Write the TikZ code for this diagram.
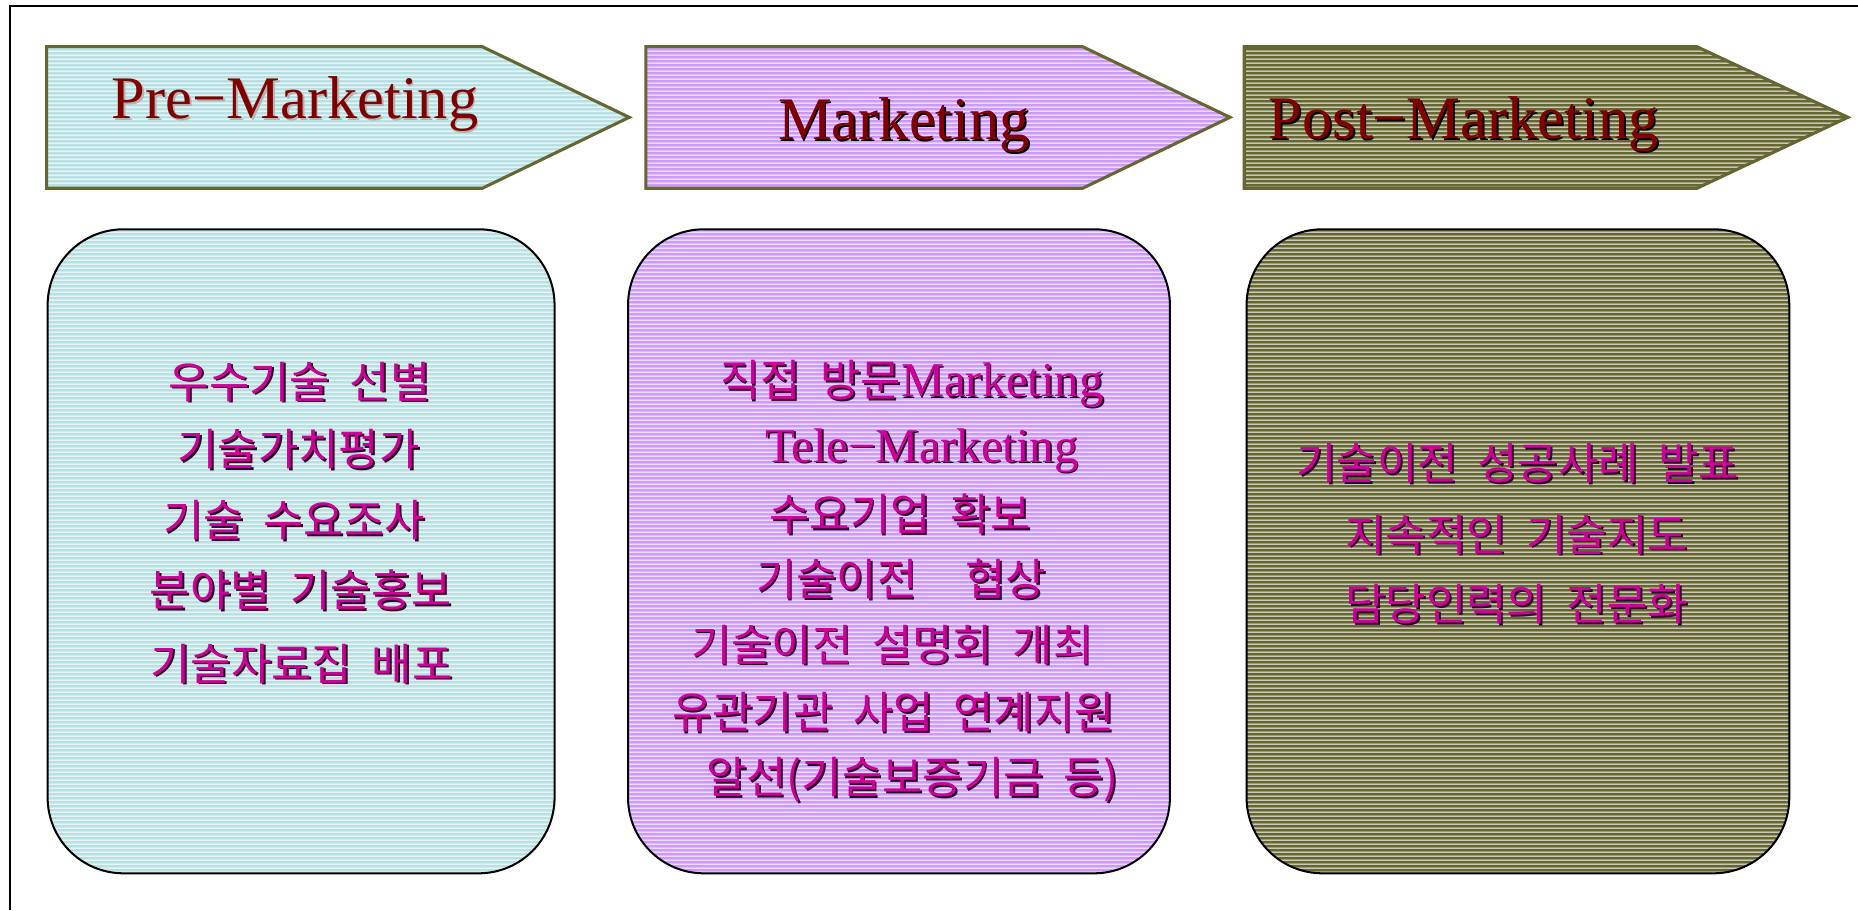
\documentclass[tikz,border=0pt]{standalone}
\usepackage{fontspec}
\setmainfont{Liberation Serif}
\newfontfamily\kr[WordSpace=2.0]{Noto Sans CJK KR}
\usetikzlibrary{patterns.meta}
\definecolor{cyanF}{HTML}{B8E0E2}
\definecolor{purpF}{HTML}{CC99FF}
\definecolor{oliveF}{HTML}{666633}
\definecolor{hdrred}{HTML}{800000}
\definecolor{kmag}{HTML}{CC0099}
\definecolor{kshadow}{HTML}{2A0024}
\definecolor{lgray}{HTML}{B4B4B4}
\newcommand\shtext[5]{%
  \node[#3, text=#4, xshift=1.5pt, yshift=-1.5pt] (#1-s) at (#2) {#5};
  \node[#3] (#1) at (#2) {#5};}
\tikzset{
  stripes/.style={preaction={fill=#1}, pattern={Lines[angle=0,distance=3.66pt,line width=0.9pt]}, pattern color=white},
  arrowshape/.style={stripes=#1, draw=oliveF, line width=2.6pt, line join=miter},
  boxshape/.style={stripes=#1, draw=black, line width=1.7pt, rounded corners=64pt},
  hdr/.style={inner sep=0pt, anchor=base west, text=hdrred, font=\fontsize{51}{51}\selectfont},
  ktxt/.style={inner sep=0pt, anchor=base, text=kmag, font=\kr\fontsize{37}{37}\selectfont},
}
\newcommand\lat[1]{{\rmfamily\fontsize{41}{41}\selectfont #1}}
\begin{document}
\begin{tikzpicture}[x=1pt,y=-1pt]
\useasboundingbox (0,0) rectangle (1568,768);
% outer frame
\draw[line width=1.5pt] (8.4,768) |- (1568,5.1);
% header arrows
\path[arrowshape=cyanF] (39.4,39.4) -- (407,39.4) -- (531,99) -- (407,158.9) -- (39.4,158.9) -- cycle;
\path[arrowshape=purpF] (545,39.4) -- (913.6,39.4) -- (1038,99) -- (913.6,158.9) -- (545,158.9) -- cycle;
\path[arrowshape=oliveF] (1050,39.4) -- (1432,39.4) -- (1559.5,99) -- (1432,158.9) -- (1050,158.9) -- cycle;
% boxes
\path[boxshape=cyanF] (40.2,193.5) rectangle (468,737);
\path[boxshape=purpF] (530,193.5) rectangle (987.3,737);
\path[boxshape=oliveF] (1052,193.5) rectangle (1510,737);
% headers
\shtext{h1}{94.3,99.8}{hdr}{lgray}{Pre−Marketing}
\shtext{h2}{656.5,118}{hdr}{black}{Marketing}
\shtext{h3}{1070.5,116.7}{hdr}{black}{Post−Marketing}
% box 1
\shtext{a1}{253,336}{ktxt}{kshadow}{우수기술 선별}
\shtext{a2}{252,393}{ktxt}{kshadow}{기술가치평가}
\shtext{a3}{248,453}{ktxt}{kshadow}{기술 수요조사}
\shtext{a4}{254,512}{ktxt}{kshadow}{분야별 기술홍보}
\shtext{a5}{254.5,574}{ktxt}{kshadow}{기술자료집 배포}
% box 2
\shtext{b1}{769.5,335}{ktxt}{kshadow}{직접 방문\lat{Marketing}}
\shtext{b2}{778,390}{ktxt}{kshadow}{\lat{Tele−Marketing}}
\shtext{b3}{759.8,448}{ktxt}{kshadow}{수요기업 확보}
\shtext{b4}{760.5,502.5}{ktxt}{kshadow}{기술이전\hspace{1.1em}협상}
\shtext{b5}{753,558}{ktxt}{kshadow}{기술이전 설명회 개최}
\shtext{b6}{754,615}{ktxt}{kshadow}{유관기관 사업 연계지원}
\shtext{b7}{770,670}{ktxt}{kshadow}{알선(기술보증기금 등)}
% box 3
\shtext{c1}{1281,404.5}{ktxt}{kshadow}{기술이전 성공사례 발표}
\shtext{c2}{1280,465}{ktxt}{kshadow}{지속적인 기술지도}
\shtext{c3}{1280,523.5}{ktxt}{kshadow}{담당인력의 전문화}
\end{tikzpicture}
\end{document}
